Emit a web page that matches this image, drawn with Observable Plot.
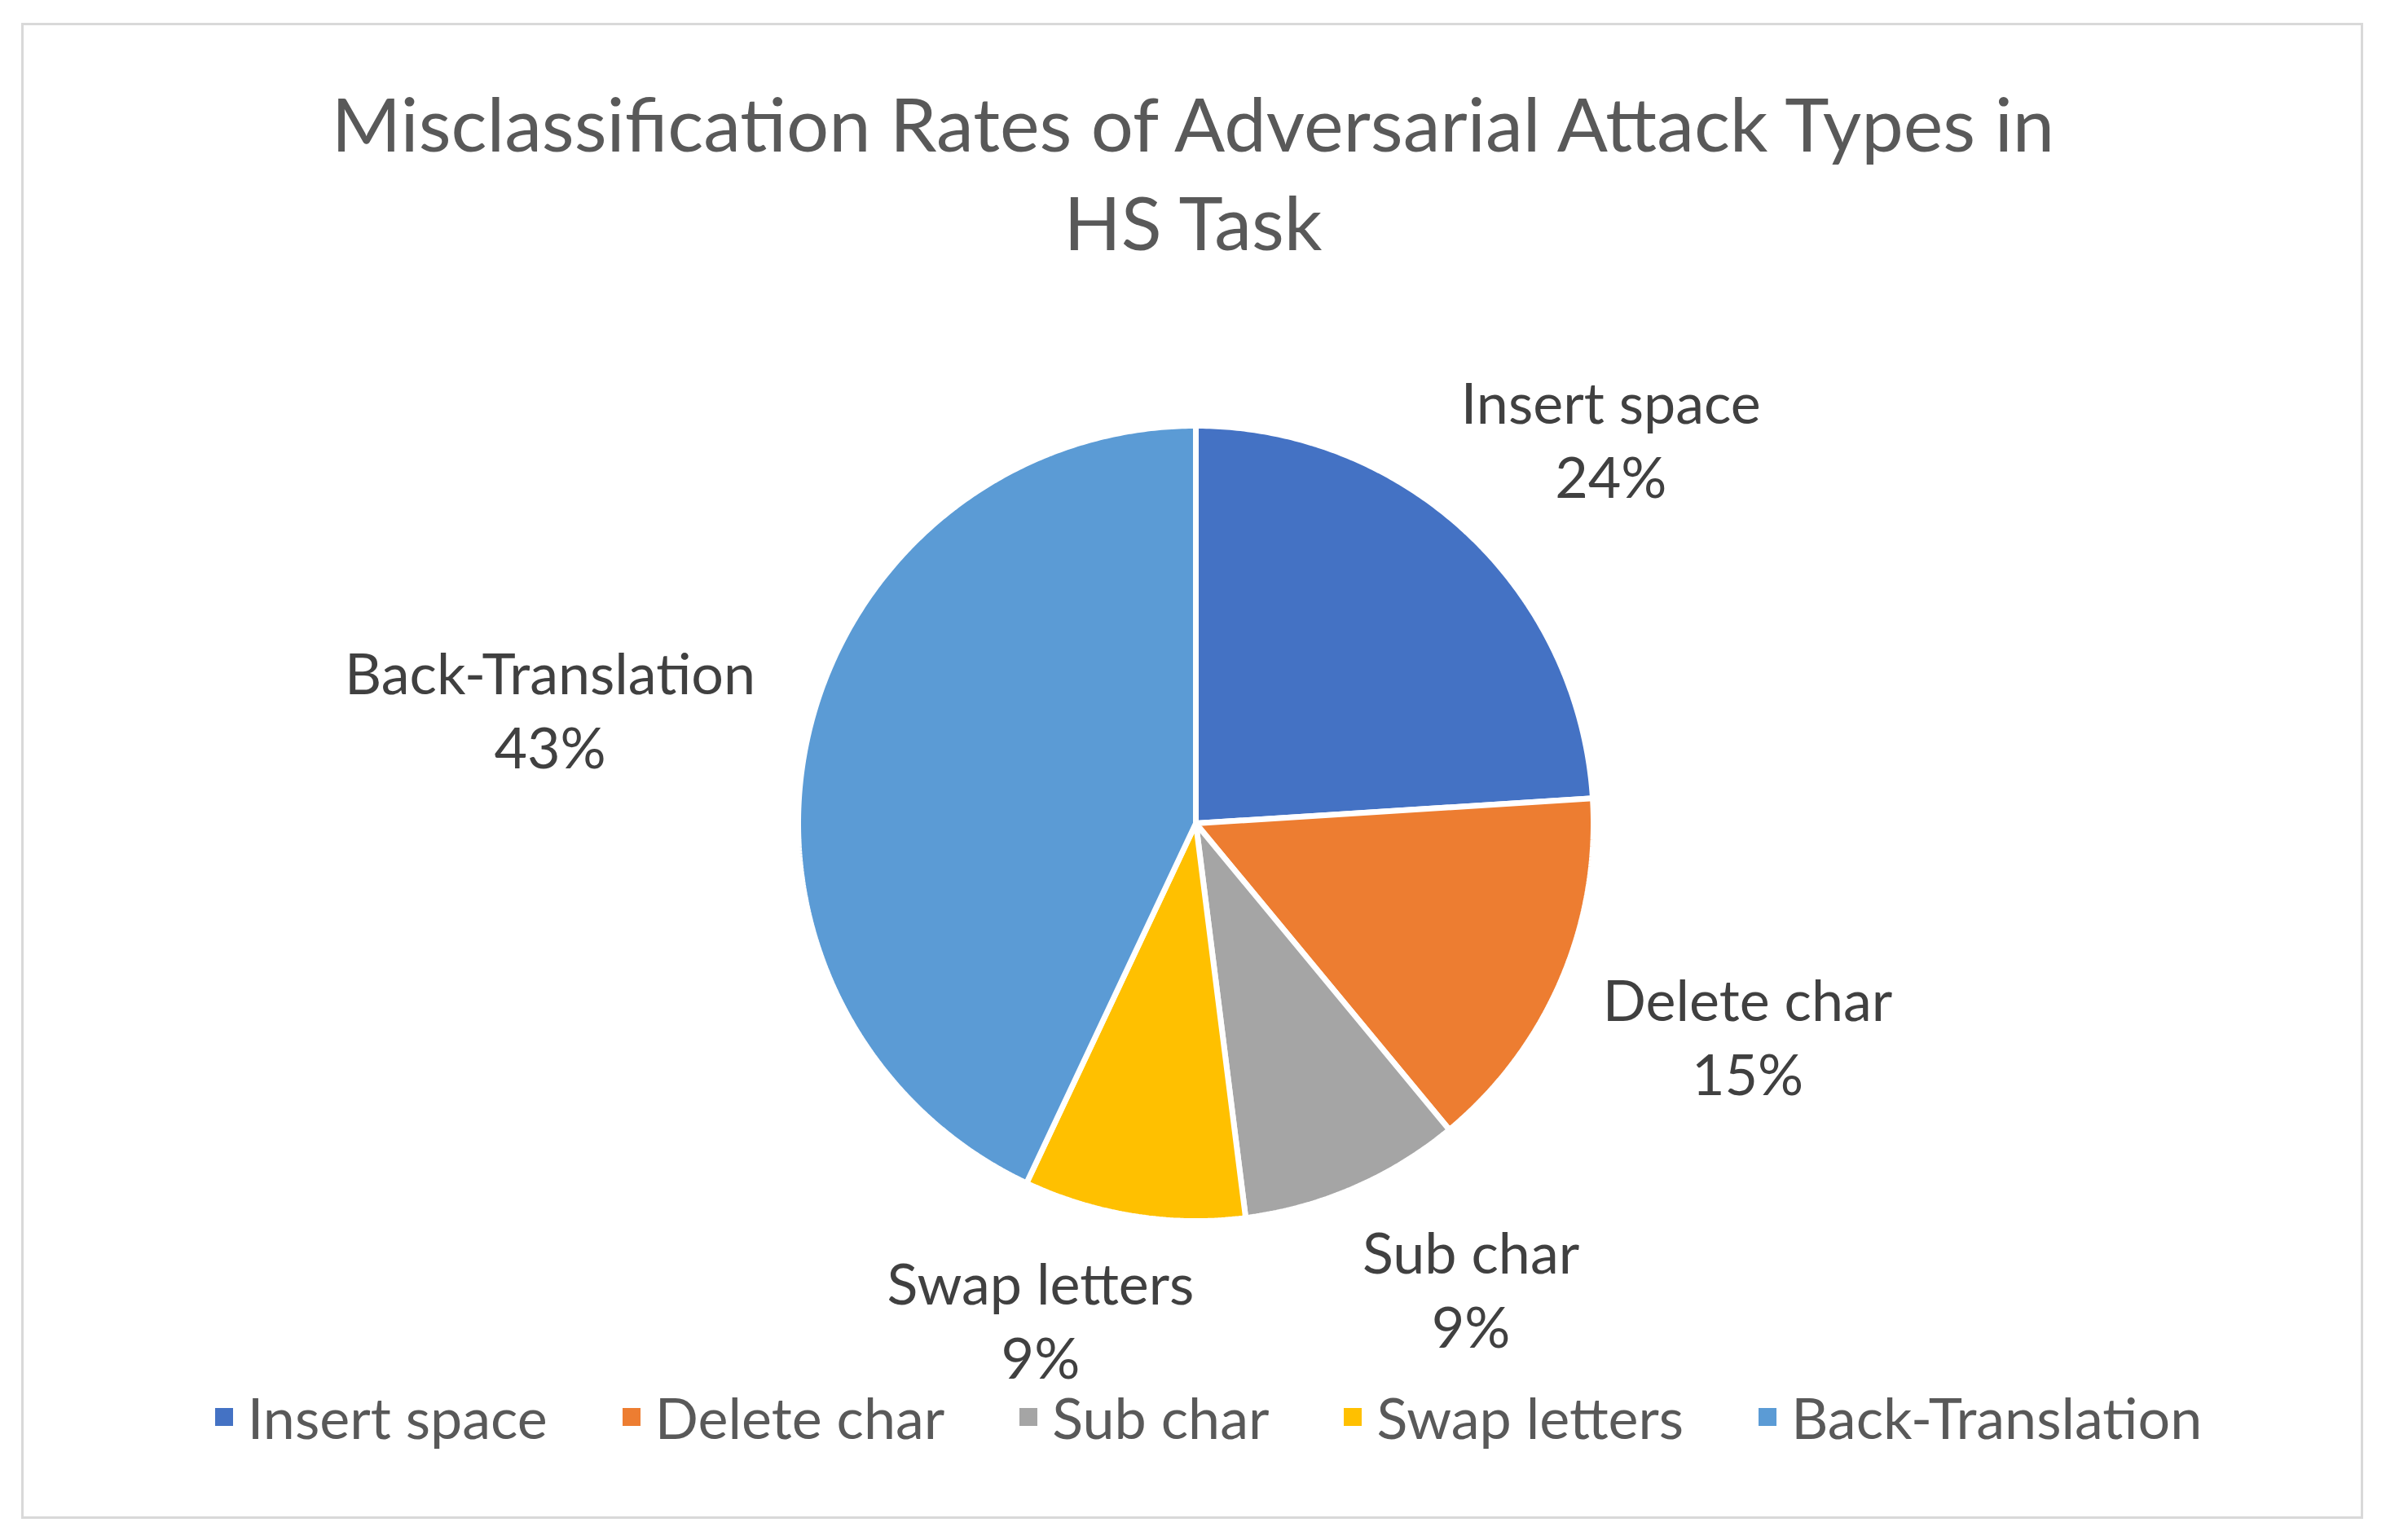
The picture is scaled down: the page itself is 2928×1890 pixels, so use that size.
<!DOCTYPE html>
<html><head><meta charset="utf-8">
<script src="https://cdn.jsdelivr.net/npm/d3@7"></script>
<script src="https://cdn.jsdelivr.net/npm/@observablehq/plot@0.6"></script>
<style>
html,body{margin:0;padding:0;background:#fff;}
body{width:2928px;height:1890px;position:relative;overflow:hidden;font-family:Lato,"Open Sans",sans-serif;}
#frame{position:absolute;left:26px;top:28px;width:2868px;height:1830px;border:3px solid #d9d9d9;box-sizing:content-box;}
#title{position:absolute;left:0;width:2928px;top:90px;text-align:center;font-size:92px;line-height:121px;color:#595959;}
#chart{position:absolute;left:0;top:330px;}
#legend{position:absolute;left:44px;width:2878px;top:1697px;display:flex;justify-content:center;align-items:center;font-size:70px;line-height:84px;color:#595959;}
.item{display:flex;align-items:center;margin:0 46px;}
.sw{width:22px;height:22px;margin-right:18px;}
</style>
</head>
<body>
<div id="frame"></div>
<div id="title">Misclassification Rates of Adversarial Attack Types in<br>HS Task</div>
<div id="chart"></div>
<div id="legend"></div>
<script>
const categories = ["Insert space", "Delete char", "Sub char", "Swap letters", "Back-Translation"];
const percents = [24, 15, 9, 9, 43];
const colors = ["#4472C4", "#ED7D31", "#A5A5A5", "#FFC000", "#5B9BD5"];

const W = 2928, H = 1360, CX = 1467, CY = 680;
const R = 488, GAP = 72, FS = 70, LH = 1.3;

const arcs = d3.pie().sort(null).value(d => d)(percents);

const rows = [];
arcs.forEach((a, i) => {
  rows.push({name: categories[i], x: 0, y: 0});
  const n = Math.max(2, Math.ceil((a.endAngle - a.startAngle) / (Math.PI / 360)));
  for (let k = 0; k <= n; k++) {
    const t = a.startAngle + (a.endAngle - a.startAngle) * k / n;
    rows.push({name: categories[i], x: R * Math.sin(t), y: R * Math.cos(t)});
  }
});

const ctx = document.createElement("canvas").getContext("2d");
ctx.font = `${FS}px Lato, "Open Sans", sans-serif`;
const measure = s => ctx.measureText(s).width;

// label boxes placed outside the slice, spread apart where crowded and kept inside the plot area
const boxes = arcs.map((a, i) => {
  const lines = [categories[i], percents[i] + "%"];
  return {th: (a.startAngle + a.endAngle) / 2, w: Math.max(...lines.map(measure)), h: 2 * LH * FS, text: lines.join("\n")};
});
const INK = LH * FS / 2 + 0.36 * FS + 2; // half of the visible text block height
function place(b) {
  const s = Math.sin(b.th), c = Math.cos(b.th);
  b.x = (R + GAP) * s + b.w / 2 * s;
  b.y = (R + GAP) * c + b.h / 2 * c;
  b.y = Math.max(-(H - CY) + INK, Math.min(CY - INK, b.y));
}
boxes.forEach(place);
const PADX = 205, PADY = 20, STEP = Math.PI / 720;
for (let it = 0; it < 800; it++) {
  let moved = false;
  for (let i = 0; i < boxes.length; i++) {
    const a = boxes[i], b = boxes[(i + 1) % boxes.length];
    const ox = Math.abs(a.x - b.x) < (a.w + b.w) / 2 + PADX;
    const oy = Math.abs(a.y - b.y) < (a.h + b.h) / 2 + PADY;
    if (ox && oy) { a.th -= STEP; b.th += STEP; place(a); place(b); moved = true; }
  }
  if (!moved) break;
}

const chart = Plot.plot({
  width: W, height: H, margin: 0,
  style: {background: "transparent", fontFamily: "Lato, 'Open Sans', sans-serif", overflow: "visible"},
  x: {domain: [-CX, W - CX], axis: null},
  y: {domain: [-(H - CY), CY], axis: null},
  color: {domain: categories, range: colors},
  marks: [
    Plot.line(rows, {x: "x", y: "y", z: "name", fill: "name", stroke: "white", strokeWidth: 7, strokeLinejoin: "miter", curve: "linear-closed"}),
    Plot.text(boxes, {x: "x", y: "y", text: "text", fontSize: FS, lineHeight: LH, fill: "#404040", lineAnchor: "middle", textAnchor: "middle"})
  ]
});
document.getElementById("chart").appendChild(chart);

const legend = document.getElementById("legend");
categories.forEach((c, i) => {
  const it = document.createElement("div");
  it.className = "item";
  const sw = document.createElement("div");
  sw.className = "sw";
  sw.style.background = colors[i];
  const tx = document.createElement("span");
  tx.textContent = c;
  it.appendChild(sw); it.appendChild(tx);
  legend.appendChild(it);
});
</script>
</body></html>
